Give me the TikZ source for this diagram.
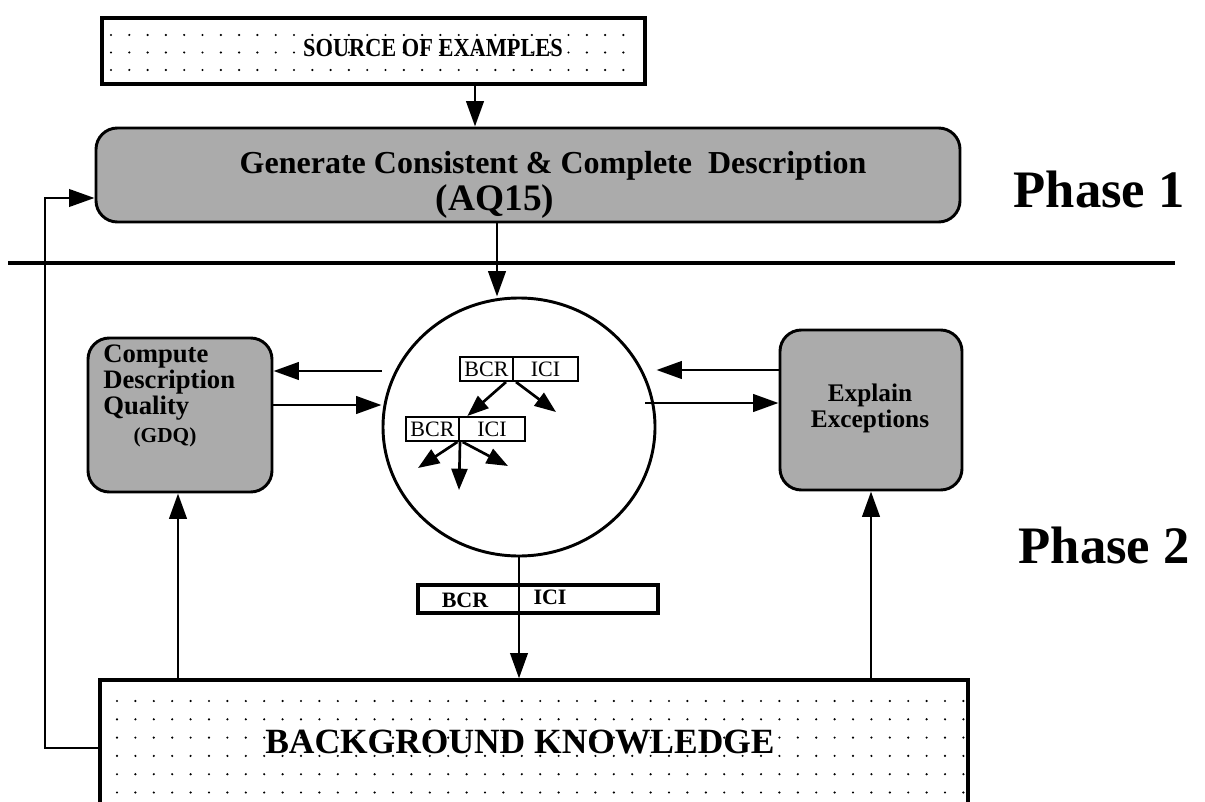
\documentclass[tikz,border=0pt]{standalone}
\usepackage{fontspec}
\setmainfont{Liberation Serif}
\usetikzlibrary{arrows.meta,shapes.geometric}
\newcommand{\fsz}[1]{\fontsize{#1}{#1}\selectfont}
\tikzset{
  arr/.style={line width=2.2pt,-{Triangle[length=19pt,width=13pt]}},
  iarr/.style={line width=2pt,-{Triangle[length=16pt,width=12pt]}},
  dotbox/.style={draw,line width=2.6pt,fill=white,inner sep=0pt},
  graybox/.style={draw,line width=2.2pt,fill=black!33,rounded corners=16pt,inner sep=0pt},
  ibox/.style={draw,line width=1.5pt,fill=white,inner sep=0pt,font=\fsz{16.5}},
  lbl/.style={inner sep=0pt,font=\bfseries\fsz{20}},
  dotmark/.style={fill=black},
}
\begin{document}
\begin{tikzpicture}[x=0.75pt,y=-0.75pt]
\path[use as bounding box,fill=white] (0,0) rectangle (1205,802);

% source of examples
\node[dotbox,minimum width={543*0.75pt},minimum height={66*0.75pt}] (src) at (373.5,51) {};
\foreach \i in {0,...,28}{\foreach \j in {0,1,2}{\fill[dotmark] (111+18.3*\i,35+17.5*\j) circle (0.9pt);}}
\node[anchor=base,inner sep=0pt,font=\bfseries\fsz{19.5},xscale=0.86] (srct) at (433,57) {SOURCE OF EXAMPLES};

% generate box
\node[graybox,minimum width={864*0.75pt},minimum height={94*0.75pt}] (gen) at (528,175) {};
\node[anchor=base,inner sep=0pt,font=\bfseries\fsz{24}] (gen1) at (553,174) {Generate Consistent \& Complete~ Description};
\node[anchor=base,inner sep=0pt,font=\bfseries\fsz{28}] (gen2) at (495,210) {(AQ15)};

% phase labels
\node[anchor=base east,inner sep=0pt,font=\bfseries\fsz{39.5}] (ph1) at (1185,208) {Phase 1};
\node[anchor=base east,inner sep=0pt,font=\bfseries\fsz{39.5}] (ph2) at (1190,563) {Phase 2};

% divider
\coordinate (divL) at (8,263);
\coordinate (divR) at (1175,263);
\draw[line width=2.6pt] (divL) -- (divR);

% central ellipse
\node[draw,ellipse,line width=2.2pt,fill=white,inner sep=0pt,minimum width={272*0.75pt},minimum height={258*0.75pt}] (circ) at (519,427) {};
\node[ibox,minimum width={53*0.75pt},minimum height={24*0.75pt}] (ib1a) at (486.5,369) {BCR};
\node[ibox,minimum width={65*0.75pt},minimum height={24*0.75pt}] (ib1b) at (545.5,369) {ICI};
\node[ibox,minimum width={53*0.75pt},minimum height={24*0.75pt}] (ib2a) at (432.5,429) {BCR};
\node[ibox,minimum width={66*0.75pt},minimum height={24*0.75pt}] (ib2b) at (492,429) {ICI};
\coordinate (t1) at (556,412);
\coordinate (t2) at (418,468);
\coordinate (t3) at (459,490);
\coordinate (t4) at (508,466);
\draw[iarr] ([xshift=-6pt]ib1a.south east) -- ([xshift=7pt]ib2b.north west);
\draw[iarr] ([xshift=3pt]ib1b.south west) -- (t1);
\draw[iarr] ([xshift=-2pt]ib2a.south east) -- (t2);
\draw[iarr] (ib2a.south east) -- (t3);
\draw[iarr] ([xshift=2pt]ib2a.south east) -- (t4);

% compute box
\node[graybox,minimum width={184*0.75pt},minimum height={154*0.75pt}] (cmp) at (180,415) {};
\node[lbl,anchor=base west] (cmp1) at (103,362) {Compute};
\node[lbl,anchor=base west] (cmp2) at (103,388) {Description};
\node[lbl,anchor=base west] (cmp3) at (103,414) {Quality};
\node[lbl,anchor=base,font=\bfseries\fsz{16}] (cmp4) at (165,442) {(GDQ)};

% explain box
\node[graybox,minimum width={182*0.75pt},minimum height={160*0.75pt}] (exp) at (871,410) {};
\node[lbl,anchor=base,font=\bfseries\fsz{19}] (exp1) at (870,401) {Explain};
\node[lbl,anchor=base,font=\bfseries\fsz{19}] (exp2) at (870,427) {Exceptions};

% result box
\node[draw,line width=3.4pt,fill=white,inner sep=0pt,minimum width={240*0.75pt},minimum height={28*0.75pt}] (res) at (538,599) {};

% background knowledge (runs off the bottom edge)
\node[dotbox,line width=2.4pt,minimum width={868*0.75pt},minimum height={134*0.75pt}] (bk) at (534,747) {};
\foreach \i in {0,...,46}{\foreach \j in {0,...,5}{\fill[dotmark] (117+18.4*\i,701+18.3*\j) circle (0.9pt);}}
\node[anchor=base west,inner sep=0pt,font=\bfseries\fsz{26.6}] (bkt) at (265,753) {BACKGROUND KNOWLEDGE};

% connectors
\coordinate (xA) at (475,0);
\coordinate (xB) at (497,0);
\draw[arr] (src.south -| xA) -- (gen.north -| xA);
\draw[arr] (gen.south -| xB) -- (circ.north -| xB);
\draw[arr] (circ.south) -- (bk.north -| circ.south);
\node[anchor=base,inner sep=0pt,font=\bfseries\fsz{16.5}] (res1) at (465,607) {BCR};
\node[anchor=base,inner sep=0pt,font=\bfseries\fsz{16.5}] (res2) at (550,604) {ICI};

\coordinate (yU) at (0,371);
\coordinate (yL) at (0,405);
\draw[arr] (circ.west |- yU) -- (cmp.east |- yU);
\draw[arr] (cmp.east |- yL) -- (circ.west |- yL);
\coordinate (yU2) at (0,370);
\coordinate (cin) at (645,403);
\draw[arr] (exp.west |- yU2) -- (circ.east |- yU2);
\draw[arr] (cin) -- (exp.west |- cin);

\coordinate (xC) at (178,0);
\draw[arr] (bk.north -| xC) -- (cmp.south -| xC);
\draw[arr] (bk.north -| exp.south) -- (exp.south);

\coordinate (fb1) at (45,748);
\coordinate (fb2) at (45,198);
\draw[arr,line width=1.9pt] (bk.west |- fb1) -- (fb1) -- (fb2) -- (gen.west |- fb2);
\end{tikzpicture}
\end{document}
